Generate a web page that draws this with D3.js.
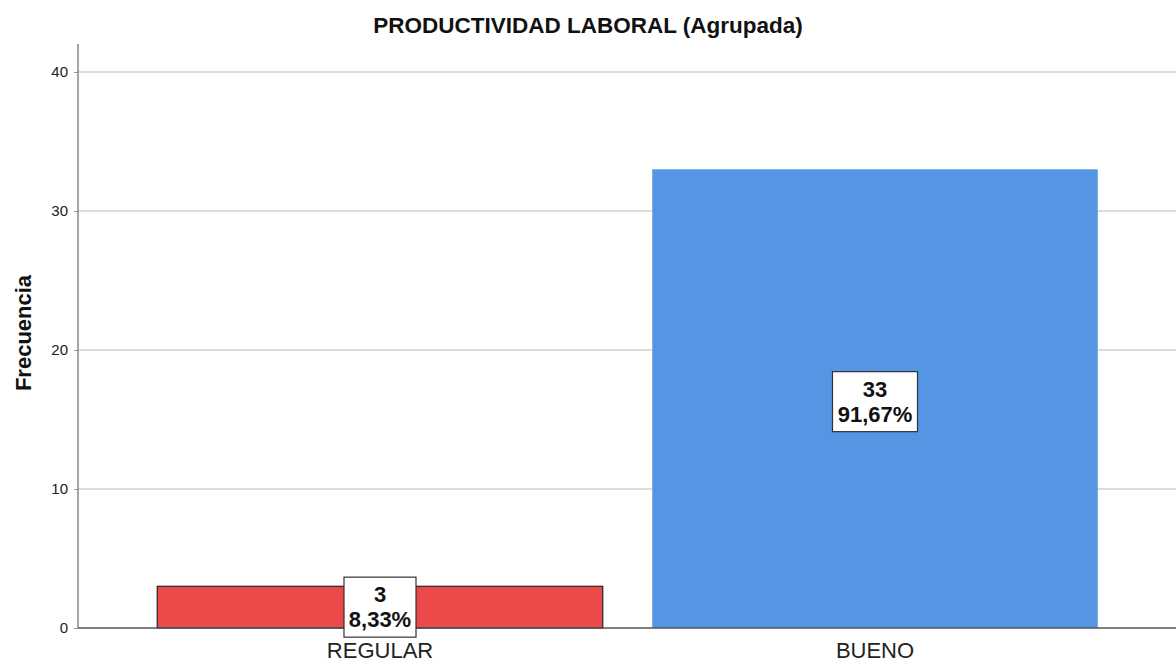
<!DOCTYPE html>
<html><head><meta charset="utf-8">
<script src="https://cdn.jsdelivr.net/npm/d3@7"></script>
<style>body{margin:0;background:#fff}svg{display:block}text{font-family:"Liberation Sans",Arial,sans-serif}</style>
</head><body><svg id="c" width="1176" height="664"></svg>
<script>
const categories = ["REGULAR", "BUENO"];
const counts = [3, 33];
const percents = ["8,33%", "91,67%"];
const colors = ["#ec4a4a", "#5596e4"];
const yTicks = [0, 10, 20, 30, 40];

(function () {
const svg = d3.select("#c");
const mLeft = 78, mRight = 1180, mTop = 44, mBottom = 628;
const y = d3.scaleLinear().domain([0, 40]).range([mBottom, 72]);
const x = d3.scaleBand().domain(categories).range([132.5, 1122.5]).paddingInner(0.1).paddingOuter(0.05);

svg.append("g").selectAll("line").data(yTicks.filter(d => d > 0)).join("line")
  .attr("x1", mLeft).attr("x2", mRight).attr("y1", d => y(d)).attr("y2", d => y(d))
  .attr("stroke", "#d0d0d0").attr("stroke-width", 1.6);

const ya = svg.append("g").attr("transform", `translate(${mLeft},0)`)
  .call(d3.axisLeft(y).tickValues(yTicks).tickSize(4).tickPadding(6));
ya.select(".domain").remove();
ya.selectAll("line").attr("stroke", "#999");
ya.selectAll("text").attr("font-size", 15).attr("fill", "#222");
svg.append("line").attr("x1", mLeft).attr("x2", mLeft).attr("y1", mTop).attr("y2", mBottom)
  .attr("stroke", "#888").attr("stroke-width", 1.5);

svg.append("g").selectAll("rect").data(categories).join("rect")
  .attr("x", d => x(d)).attr("width", x.bandwidth())
  .attr("y", (d, i) => y(counts[i])).attr("height", (d, i) => mBottom - y(counts[i]))
  .attr("fill", (d, i) => colors[i])
  .attr("stroke", (d, i) => i === 0 ? "#222" : "none").attr("stroke-width", 1.2);

svg.append("line").attr("x1", mLeft).attr("x2", mRight).attr("y1", mBottom).attr("y2", mBottom)
  .attr("stroke", "#555").attr("stroke-width", 1.5);

const xa = svg.append("g").attr("transform", `translate(0,${mBottom})`)
  .call(d3.axisBottom(x).tickSize(0).tickPadding(14));
xa.select(".domain").remove();
xa.selectAll("text").attr("font-size", 22).attr("fill", "#222");

categories.forEach((c, i) => {
  const cx = x(c) + x.bandwidth() / 2;
  const cy = (y(counts[i]) + mBottom) / 2 + (i === 0 ? 0 : 3);
  const w = i === 0 ? 72 : 85, h = 60;
  const g = svg.append("g");
  g.append("rect").attr("x", cx - w / 2).attr("y", cy - h / 2).attr("width", w).attr("height", h)
    .attr("fill", "#fff").attr("stroke", "#333").attr("stroke-width", 1.2);
  g.append("text").attr("x", cx).attr("y", cy - 5).attr("text-anchor", "middle")
    .attr("font-size", 22).attr("font-weight", "bold").attr("fill", "#111").text(counts[i]);
  g.append("text").attr("x", cx).attr("y", cy + 20).attr("text-anchor", "middle")
    .attr("font-size", 22).attr("font-weight", "bold").attr("fill", "#111").text(percents[i]);
});

svg.append("text").attr("x", 588).attr("y", 33).attr("text-anchor", "middle")
  .attr("font-size", 22.5).attr("font-weight", "bold").attr("fill", "#111")
  .text("PRODUCTIVIDAD LABORAL (Agrupada)");
svg.append("text").attr("transform", "translate(31,333) rotate(-90)").attr("text-anchor", "middle")
  .attr("font-size", 22).attr("font-weight", "bold").attr("fill", "#111").text("Frecuencia");
})();
</script></body></html>
